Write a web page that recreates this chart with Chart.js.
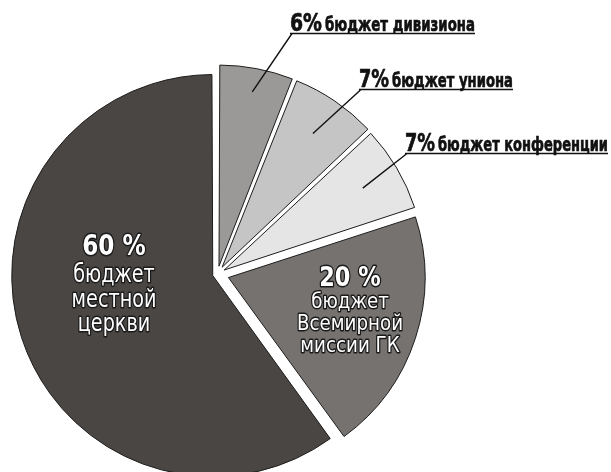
<!DOCTYPE html>
<html>
<head>
<meta charset="utf-8">
<script src="https://cdn.jsdelivr.net/npm/chart.js@4"></script>
<style>
	body { margin: 0; background: #fff; }
	#wrap { width: 611px; height: 472px; position: relative; }
</style>
</head>
<body>
<div id="wrap"><canvas id="budgetChart"></canvas></div>
<script>
// доли бюджета, по часовой стрелке от 12 часов
const shares = [6, 7, 7, 20, 60]
const names = [
	"бюджет дивизиона",
	"бюджет униона",
	"бюджет конференции",
	"бюджет Всемирной миссии ГК",
	"бюджет местной церкви"
]
const innerLines = [null, null, null, ["бюджет", "Всемирной", "миссии ГК"], ["бюджет", "местной", "церкви"]]

const sliceColors = ["#9b9997", "#c5c5c5", "#e5e5e5", "#76726f", "#4a4643"]
// Chart.js сдвигает сектор примерно на offset/4..offset/2
const sliceOffsets = [32, 33, 31, 46, 20]
const shift = [13, 13, 12, 12, 10]

const FONT = "'DejaVu Sans', sans-serif"

// подписи снаружи: [x начала, x начала названия, x конца, базовая линия, доля радиуса для выноски]
const outerPos = [
	[290, 325, 475, 31, 0.88],
	[359, 392, 513, 87, 0.8],
	[405, 438, 608, 151, 0.8]
]
// подписи внутри: [центр x, базовые линии, размеры шрифта, сжатие]
const innerPos = {
	3: [350, [286, 308, 330, 352], [27, 22, 22, 22], 0.83],
	4: [114, [255, 282, 307, 331], [29, 24, 24, 24], 0.8]
}

function squeezed(ctx, text, x, y, font, width) {
	ctx.save()
	ctx.font = font
	const sx = width / ctx.measureText(text).width
	ctx.translate(x, y)
	ctx.scale(sx, 1)
	ctx.fillText(text, 0, 0)
	ctx.strokeText(text, 0, 0)
	ctx.restore()
}

const labelPlugin = {
	id: "labels",
	afterDatasetsDraw(chart) {
		const ctx = chart.ctx
		const arcs = chart.getDatasetMeta(0).data
		arcs.forEach((arc, i) => {
			if (outerPos[i]) {
				const [tx, nx, tEnd, ty, frac] = outerPos[i]
				const mid = (arc.startAngle + arc.endAngle) / 2
				const d = shift[i] + arc.outerRadius * frac
				const ex = arc.x + Math.cos(mid) * d
				const ey = arc.y + Math.sin(mid) * d
				ctx.save()
				ctx.fillStyle = "#111"
				ctx.strokeStyle = "#111"
				ctx.lineWidth = 0.7
				ctx.textAlign = "left"
				ctx.textBaseline = "alphabetic"
				squeezed(ctx, shares[i] + "%", tx, ty, "bold 24px " + FONT, nx - tx - 3)
				squeezed(ctx, names[i], nx, ty, "bold 20px " + FONT, tEnd - nx)
				ctx.lineWidth = 1.4
				ctx.beginPath()
				ctx.moveTo(tx, ty + 2.5)
				ctx.lineTo(tEnd, ty + 2.5)
				ctx.moveTo(tx + 2, ty + 2.5)
				ctx.lineTo(ex, ey)
				ctx.stroke()
				ctx.restore()
			}
			if (innerPos[i]) {
				const [cx, bases, sizes, sx] = innerPos[i]
				const lines = [shares[i] + " %"].concat(innerLines[i])
				lines.forEach((t, k) => {
					ctx.save()
					ctx.translate(cx, bases[k])
					ctx.scale(sx, 1)
					ctx.textAlign = "center"
					ctx.lineJoin = "round"
					ctx.font = (k === 0 ? "bold " : "") + sizes[k] + "px " + FONT
					ctx.strokeStyle = "#1a1a1a"
					ctx.lineWidth = 3
					ctx.strokeText(t, 0, 0)
					ctx.fillStyle = "#fff"
					ctx.fillText(t, 0, 0)
					ctx.restore()
				})
			}
		})
	}
}

new Chart(document.getElementById("budgetChart"), {
	type: "pie",
	data: {
		labels: names,
		datasets: [{
			data: shares,
			backgroundColor: sliceColors,
			borderColor: "#1c1c1c",
			borderWidth: 1,
			offset: sliceOffsets,
			clip: false
		}]
	},
	options: {
		responsive: true,
		maintainAspectRatio: false,
		animation: false,
		radius: 196,
		layout: { padding: { left: 0, right: 176, top: 76, bottom: 0 } },
		plugins: {
			legend: { display: false },
			tooltip: { enabled: false }
		}
	},
	plugins: [labelPlugin]
})
</script>
</body>
</html>
